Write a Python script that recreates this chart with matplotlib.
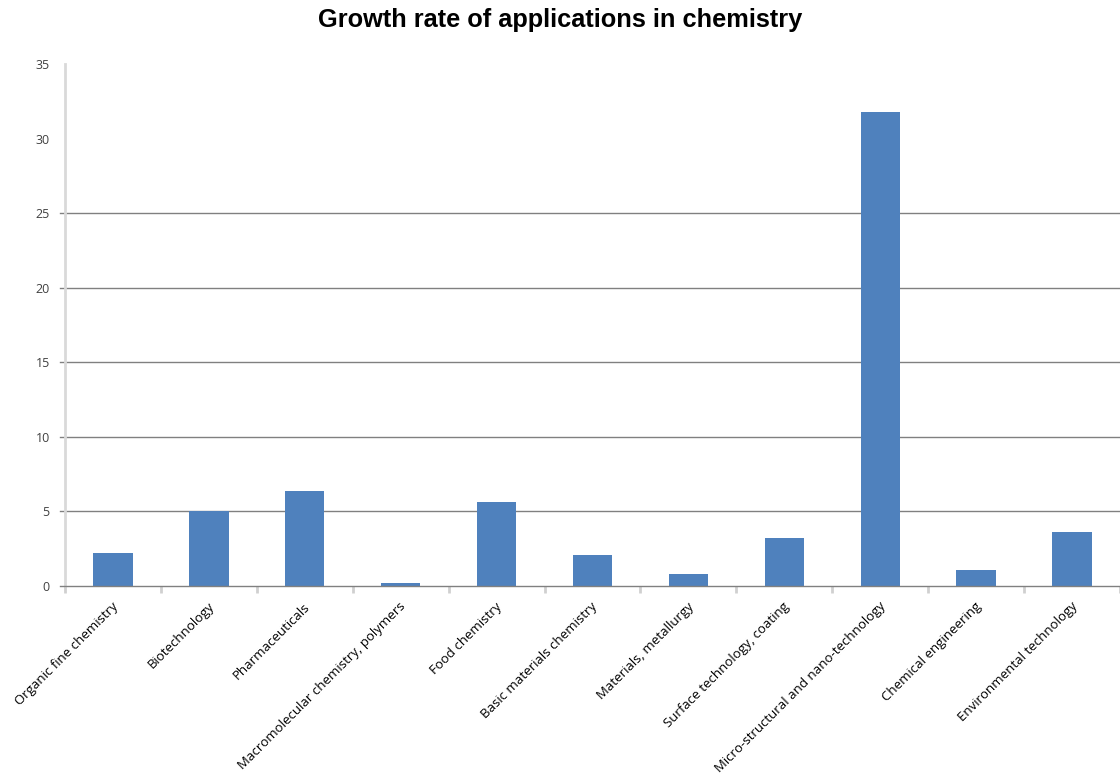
import matplotlib
matplotlib.use("Agg")
import matplotlib.pyplot as plt
import numpy as np

categories = ["Organic fine chemistry", "Biotechnology", "Pharmaceuticals",
              "Macromolecular chemistry, polymers", "Food chemistry",
              "Basic materials chemistry", "Materials, metallurgy",
              "Surface technology, coating", "Micro-structural and nano-technology",
              "Chemical engineering", "Environmental technology"]
values = [2.2, 5.0, 6.4, 0.2, 5.6, 2.1, 0.8, 3.2, 31.8, 1.1, 3.6]
yticks = [0, 5, 10, 15, 20, 25, 30, 35]
title = "Growth rate of applications in chemistry"

fig = plt.figure(figsize=(11.2, 7.83), dpi=100)
ax = fig.add_axes([65/1120, 1-586/783, 1-65/1120, (586-64)/783])

x = np.arange(len(categories))
ax.bar(x, values, width=0.41, color="#4F81BD", zorder=3)

ax.set_xlim(-0.5, len(categories)-0.5)
ax.set_ylim(0, 35)
ax.set_yticks(yticks)
ax.set_yticklabels([str(v) for v in yticks], color="#404040", fontsize=9, family="Open Sans")
ax.tick_params(axis="y", length=0, pad=11)

ext = -5/1055
for v in yticks:
    if v < 30:
        ax.axhline(v, xmin=ext, xmax=1, color="#808080", lw=1, zorder=4 if v == 0 else 1,
                   clip_on=False)

ax.set_xticks(np.arange(len(categories)+1) - 0.5, minor=False)
ax.set_xticklabels([])
ax.tick_params(axis="x", length=5, color="#d0d0d0", width=2, direction="out")
for i, c in enumerate(categories):
    ax.annotate(c, xy=(i, 0), xycoords="data", xytext=(-1, -10), textcoords="offset points",
                rotation=45, ha="right", va="top", rotation_mode="anchor",
                fontsize=9.5, family="Open Sans", color="#000000")

for s in ["top", "right", "bottom"]:
    ax.spines[s].set_visible(False)
ax.spines["left"].set_color("#d9d9d9")
ax.spines["left"].set_linewidth(2)

fig.text(0.5, 1-20/783, title, ha="center", va="center", fontsize=18.3,
         fontweight="bold", family="Liberation Sans")

fig.savefig("out.png", dpi=100)
